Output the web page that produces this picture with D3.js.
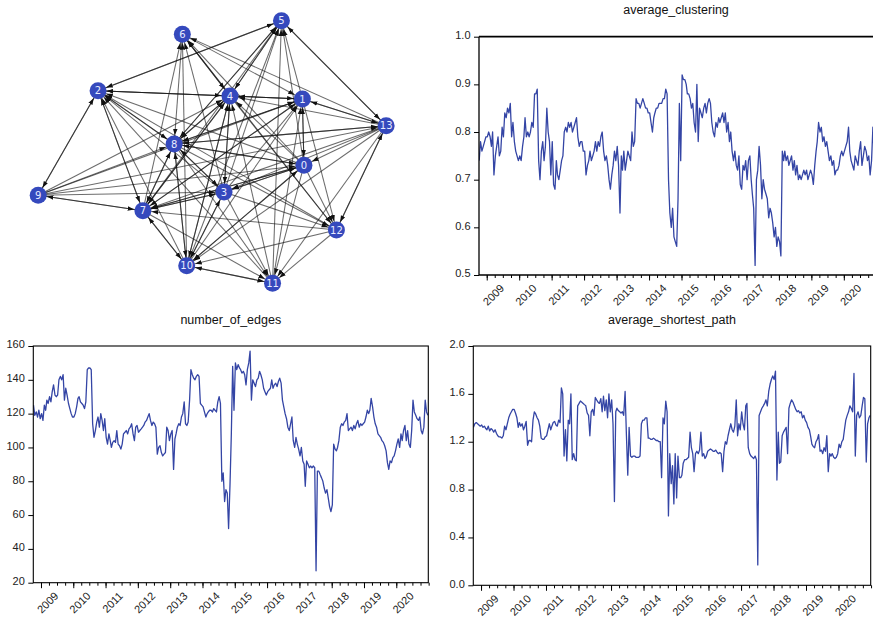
<!DOCTYPE html>
<html>
<head>
<meta charset="utf-8">
<script src="https://cdn.jsdelivr.net/npm/d3@7"></script>
<style>
  body { margin: 0; background: #fff; }
  text { font-family: "Liberation Sans", Arial, sans-serif; }
</style>
</head>
<body>
<svg id="chart" width="873" height="620"></svg>
<script>
// ---- network: node layout (normalized coords) and edge list ----
var nodeX = [0.527, 0.518, -0.653, 0.069, 0.103, 0.398, -0.170, -0.396, -0.217, -0.996, -0.145, 0.347, 0.713, 0.998];
var nodeY = [-0.101, 0.404, 0.467, -0.305, 0.427, 1.0, 0.896, -0.447, 0.061, -0.330, -0.866, -1.0, -0.594, 0.200];

var edgeList = [
  [5,2],[5,4],[8,5],[7,5],[3,5],[10,5],[11,5],[1,5],[0,5],[13,5],
  [6,4],[6,1],[13,6],[0,6],[6,8],[7,6],[10,6],[3,6],[12,6],
  [2,4],[1,2],[8,2],[2,7],[10,2],[3,2],[0,2],[12,2],[11,2],[9,2],
  [1,4],[13,4],[8,4],[7,4],[10,4],[3,4],[0,4],[4,12],[11,4],[9,4],
  [13,1],[8,1],[7,1],[10,1],[3,1],[0,1],[1,12],[11,1],[9,1],
  [13,8],[13,0],[13,3],[13,7],[13,10],[13,12],[13,11],[9,13],
  [8,0],[8,3],[8,7],[8,10],[8,11],[8,12],[9,8],
  [0,3],[7,0],[10,0],[0,11],[0,12],[9,0],
  [3,7],[3,10],[3,11],[3,12],[9,3],
  [7,10],[7,11],[12,7],[9,7],
  [10,11],[12,10],[12,11],
  // reverse directions
  [2,5],[4,5],[5,8],[4,6],[4,2],[2,8],[7,2],[4,1],[4,8],[4,7],[4,10],[4,3],
  [1,13],[1,8],[1,7],[1,0],[8,13],[0,8],[3,8],[7,8],[10,8],[3,0],[0,7],[0,10],
  [7,3],[10,3],[10,7],[2,9],[7,9],[11,10],[5,13],[12,13]
];

// ---- time series: two readings per month, Oct 2008 .. Dec 2020 ----
var years = [2009, 2010, 2011, 2012, 2013, 2014, 2015, 2016, 2017, 2018, 2019, 2020];

var clustering = [
  0.74,0.78, 0.76,0.77, 0.78,0.79,
  0.79,0.80, 0.79,0.77, 0.80,0.71, 0.75,0.77, 0.79,0.75, 0.76,0.81, 0.79,0.84, 0.83,0.85, 0.84,0.86, 0.79,0.82, 0.78,0.76, 0.75,0.74,
  0.75,0.74, 0.77,0.79, 0.83,0.79, 0.80,0.79, 0.80,0.82, 0.81,0.88, 0.88,0.89, 0.74,0.70, 0.76,0.78, 0.74,0.77, 0.85,0.80, 0.78,0.71,
  0.78,0.69, 0.68,0.74, 0.71,0.70, 0.72,0.74, 0.75,0.80, 0.81,0.80, 0.82,0.81, 0.82,0.80, 0.81,0.82, 0.83,0.79, 0.77,0.78, 0.78,0.76,
  0.76,0.71, 0.73,0.74, 0.76,0.74, 0.75,0.76, 0.78,0.76, 0.78,0.77, 0.79,0.80, 0.76,0.74, 0.75,0.73, 0.70,0.68, 0.71,0.73, 0.76,0.74,
  0.77,0.73, 0.63,0.75, 0.72,0.76, 0.72,0.74, 0.76,0.75, 0.74,0.80, 0.77,0.78, 0.87,0.86, 0.86,0.85, 0.86,0.87, 0.86,0.85, 0.85,0.84,
  0.84,0.82, 0.80,0.83, 0.84,0.85, 0.85,0.86, 0.86,0.86, 0.87,0.87, 0.89,0.88, 0.70,0.63, 0.60,0.64, 0.58,0.57, 0.56,0.66, 0.86,0.74,
  0.92,0.91, 0.91,0.90, 0.88,0.88, 0.87,0.85, 0.86,0.82, 0.80,0.90, 0.78,0.85, 0.84,0.83, 0.85,0.86, 0.84,0.86, 0.87,0.86, 0.82,0.80,
  0.79,0.82, 0.81,0.83, 0.82,0.83, 0.84,0.82, 0.84,0.80, 0.82,0.78, 0.80,0.76, 0.74,0.76, 0.73,0.72, 0.75,0.69, 0.68,0.73, 0.72,0.74,
  0.70,0.74, 0.75,0.70, 0.67,0.64, 0.52,0.70, 0.72,0.77, 0.73,0.66, 0.70,0.68, 0.67,0.66, 0.62,0.64, 0.63,0.61, 0.58,0.60, 0.56,0.58,
  0.57,0.54, 0.76,0.74, 0.76,0.74, 0.75,0.73, 0.74,0.75, 0.72,0.74, 0.71,0.73, 0.70,0.71, 0.70,0.71, 0.72,0.71, 0.72,0.70, 0.71,0.72,
  0.71,0.69, 0.73,0.76, 0.78,0.82, 0.80,0.81, 0.78,0.79, 0.77,0.78, 0.76,0.74, 0.75,0.73, 0.74,0.71, 0.72,0.72, 0.73,0.75, 0.76,0.75,
  0.76,0.77, 0.78,0.81, 0.76,0.74, 0.73,0.72, 0.75,0.74, 0.73,0.76, 0.78,0.73, 0.75,0.77, 0.76,0.74, 0.75,0.71, 0.74,0.81, 0.75,0.76
];

var numEdges = [
  125,119, 121,118, 122,117,
  120,116, 125,122, 128,126, 130,127, 133,137, 131,130, 131,140, 142,140, 143,128, 135,131, 126,123, 120,118,
  118,120, 124,129, 130,127, 126,125, 123,127, 146,147, 147,146, 114,106, 110,115, 118,112, 120,116, 110,117,
  106,102, 108,104, 100,103, 104,103, 110,102, 101,99, 102,108, 109,110, 108,111, 112,114, 108,104, 112,113,
  109,110, 111,112, 113,115, 116,118, 120,116, 113,115, 114,112, 96,100, 101,97, 95,96, 97,112, 110,104,
  108,110, 87,105, 108,112, 114,113, 118,120, 127,114, 113,115, 128,146, 143,141, 140,142, 143,142, 126,125,
  124,121, 118,120, 121,122, 122,121, 123,122, 121,127, 130,126, 80,85, 68,75, 73,52, 78,108, 148,122,
  150,146, 149,147, 146,144, 145,143, 137,146, 150,157, 128,140, 138,136, 140,141, 145,143, 140,135, 133,131,
  133,134, 135,140, 135,137, 138,136, 139,141, 138,128, 124,120, 117,112, 110,114, 118,104, 100,106, 102,99,
  95,100, 92,90, 77,92, 90,88, 89,88, 89,88, 27,86, 86,84, 82,80, 76,73, 75,70, 65,62,
  66,102, 99,98, 100,104, 112,114, 113,115, 116,120, 110,111, 112,110, 113,111, 114,116, 112,114, 113,114,
  115,118, 122,120, 122,129, 124,118, 114,112, 108,107, 106,104, 103,101, 98,91, 87,92, 91,94, 95,98,
  102,105, 100,108, 104,110, 113,104, 110,102, 100,110, 128,121, 119,117, 116,118, 110,108, 112,128, 121,119
];

var shortestPath = [
  1.32,1.35, 1.36,1.35, 1.34,1.33,
  1.34,1.32, 1.33,1.31, 1.30,1.33, 1.29,1.31, 1.30,1.28, 1.30,1.27, 1.25,1.24, 1.24,1.23, 1.25,1.33, 1.30,1.35, 1.40,1.43, 1.45,1.47,
  1.47,1.44, 1.40,1.32, 1.36,1.33, 1.35,1.30, 1.33,1.37, 1.17,1.21, 1.21,1.20, 1.38,1.45, 1.43,1.40, 1.38,1.33, 1.23,1.22, 1.22,1.24,
  1.25,1.30, 1.35,1.30, 1.33,1.36, 1.37,1.34, 1.33,1.38, 1.36,1.65, 1.60,1.08, 1.30,1.04, 1.38,1.35, 1.60,1.05, 1.10,1.05, 1.04,1.50,
  1.52,1.54, 1.53,1.52, 1.51,1.50, 1.44,1.42, 1.25,1.45, 1.47,1.42, 1.57,1.55, 1.53,1.52, 1.56,1.45, 1.58,1.46, 1.55,1.40, 1.60,1.45,
  1.55,1.35, 0.70,1.45, 1.48,1.46, 1.45,1.44, 1.45,1.42, 1.62,1.25, 0.92,1.32, 1.08,1.07, 1.08,1.08, 1.07,1.07, 1.07,1.08, 1.35,1.38,
  1.38,1.40, 1.40,1.23, 1.23,1.22, 1.22,1.23, 1.22,1.21, 1.21,1.20, 1.20,0.90, 1.40,1.35, 1.54,1.45, 0.58,1.10, 0.85,1.00, 0.68,1.10,
  0.73,1.08, 0.90,0.90, 0.92,1.02, 1.05,1.05, 1.06,1.07, 1.28,1.15, 1.10,0.95, 1.10,1.12, 1.10,1.13, 1.28,1.08, 1.10,1.06, 1.08,1.12,
  1.13,1.14, 1.13,1.12, 1.12,1.13, 1.11,1.10, 1.11,1.10, 0.95,1.12, 1.20,1.18, 1.25,1.30, 1.35,1.30, 1.28,1.33, 1.55,1.25, 1.35,1.30,
  1.45,1.35, 1.30,1.50, 1.52,1.15, 1.10,1.08, 1.07,1.06, 1.08,1.05, 0.17,1.42, 1.45,1.48, 1.50,1.52, 1.55,1.50, 1.62,1.68, 1.72,1.75,
  1.72,1.79, 0.88,1.28, 1.02,1.03, 1.25,1.28, 1.30,1.32, 1.10,1.48, 1.52,1.55, 1.53,1.50, 1.47,1.45, 1.46,1.44, 1.45,1.40, 1.42,1.38,
  1.36,1.32, 1.30,1.24, 1.18,1.16, 1.15,1.20, 1.22,1.26, 1.12,1.13, 1.10,1.15, 1.12,1.25, 0.95,1.10, 1.08,1.10, 1.07,1.06, 1.07,1.10,
  1.18,1.15, 1.20,1.22, 1.30,1.38, 1.42,1.45, 1.50,1.48, 1.45,1.77, 1.08,1.42, 1.45,1.40, 1.42,1.50, 1.57,1.56, 1.03,1.35, 1.40,1.42
];

// dates for the readings: 8th and 23rd of each month from Oct 2008
var dates = clustering.map(function(v, i) {
  return new Date(2008, 9 + Math.floor(i / 2), i % 2 ? 23 : 8);
});

var svg = d3.select("#chart");
svg.append("rect").attr("width", 873).attr("height", 620).attr("fill", "#fff");

var lineColor = "#3445a5";

// ================= network =================
var gx = d3.scaleLinear().domain([-1, 1]).range([37.5, 386.5]);
var gy = d3.scaleLinear().domain([-1, 1]).range([283.3, 20.7]);
var nodeR = 8.5;

svg.append("defs").append("marker")
    .attr("id", "arrow")
    .attr("viewBox", "0 -5 10 10")
    .attr("refX", 6.5 + nodeR + 0.3)
    .attr("refY", 0)
    .attr("markerWidth", 10)
    .attr("markerHeight", 10)
    .attr("markerUnits", "userSpaceOnUse")
    .attr("orient", "auto")
  .append("path")
    .attr("d", "M0,-2.3L6.5,0L0,2.3Z")
    .attr("fill", "#111");

var gNet = svg.append("g");

gNet.selectAll("line.edge")
    .data(edgeList)
  .enter().append("line")
    .attr("class", "edge")
    .attr("x1", function(d) { return gx(nodeX[d[0]]); })
    .attr("y1", function(d) { return gy(nodeY[d[0]]); })
    .attr("x2", function(d) { return gx(nodeX[d[1]]); })
    .attr("y2", function(d) { return gy(nodeY[d[1]]); })
    .attr("stroke", "#111")
    .attr("stroke-opacity", 0.62)
    .attr("stroke-width", 1.05)
    .attr("marker-end", "url(#arrow)");

var nodes = gNet.selectAll("g.node")
    .data(nodeX)
  .enter().append("g")
    .attr("class", "node")
    .attr("transform", function(d, i) { return "translate(" + gx(nodeX[i]) + "," + gy(nodeY[i]) + ")"; });

nodes.append("circle")
    .attr("r", nodeR)
    .attr("fill", "#3549bd");

nodes.append("text")
    .attr("text-anchor", "middle")
    .attr("dy", "0.36em")
    .style("font-family", "'DejaVu Sans', sans-serif")
    .style("font-size", "10px")
    .attr("fill", "#e8ecff")
    .text(function(d, i) { return i; });

// ================= time series panels =================
var timeDomain = [new Date(2008, 9, 6), new Date(2020, 11, 28)];
var yearStarts = years.map(function(y) { return new Date(y, 0, 1); });
var quarterStarts = d3.timeMonth.every(3).range(new Date(2008, 9, 1), new Date(2021, 0, 2));

function drawPanel(p) {
  var x = d3.scaleTime().domain(timeDomain).range([p.left, p.right]);
  var y = d3.scaleLinear().domain(p.domain).range([p.bottom, p.top]);
  var g = svg.append("g");

  g.append("clipPath").attr("id", "clip-" + p.id)
    .append("rect")
      .attr("x", p.left).attr("y", p.top)
      .attr("width", p.right - p.left).attr("height", p.bottom - p.top);

  var line = d3.line()
      .x(function(d, i) { return x(dates[i]); })
      .y(function(d) { return y(d); });

  g.append("path")
      .datum(p.values)
      .attr("clip-path", "url(#clip-" + p.id + ")")
      .attr("fill", "none")
      .attr("stroke", lineColor)
      .attr("stroke-width", 1.3)
      .attr("stroke-linejoin", "round")
      .attr("d", line);

  // frame
  if (p.box) {
    g.append("rect")
        .attr("x", p.left).attr("y", p.top)
        .attr("width", p.right - p.left).attr("height", p.bottom - p.top)
        .attr("fill", "none").attr("stroke", "#000").attr("stroke-width", 1.1);
  } else {
    g.append("line").attr("x1", p.left).attr("x2", p.right).attr("y1", p.top).attr("y2", p.top)
        .attr("stroke", "#000").attr("stroke-width", 1.8);
    g.append("line").attr("x1", p.left).attr("x2", p.left).attr("y1", p.top).attr("y2", p.bottom)
        .attr("stroke", "#000").attr("stroke-width", 1.3);
    g.append("line").attr("x1", p.left).attr("x2", p.right).attr("y1", p.bottom).attr("y2", p.bottom)
        .attr("stroke", "#000").attr("stroke-width", 1.3);
  }

  // y axis
  var ya = g.append("g")
      .attr("transform", "translate(" + p.left + ",0)")
      .call(d3.axisLeft(y).tickValues(p.ticks).tickFormat(d3.format(p.fmt))
              .tickSize(5).tickSizeOuter(0).tickPadding(3.5));
  ya.select(".domain").remove();
  ya.attr("font-size", 11).attr("font-family", "'Liberation Sans', Arial, sans-serif");
  ya.selectAll("text").attr("fill", "#222").attr("dy", "0.18em");
  ya.selectAll("line").attr("stroke", "#000");

  // x axis: minor quarterly and major yearly ticks
  var xm = g.append("g")
      .attr("transform", "translate(0," + p.bottom + ")")
      .call(d3.axisBottom(x).tickValues(quarterStarts.filter(function(d) { return d >= timeDomain[0]; }))
              .tickFormat("").tickSize(3).tickSizeOuter(0));
  xm.select(".domain").remove();

  var xa = g.append("g")
      .attr("transform", "translate(0," + p.bottom + ")")
      .call(d3.axisBottom(x).tickValues(yearStarts).tickFormat("").tickSize(5.5).tickSizeOuter(0));
  xa.select(".domain").remove();
  g.selectAll(".tick line").attr("stroke", "#000");

  g.selectAll("text.year")
      .data(years)
    .enter().append("text")
      .attr("class", "year")
      .attr("text-anchor", "end")
      .attr("font-size", 11)
      .attr("fill", "#222")
      .attr("transform", function(d) {
        return "translate(" + (x(new Date(d, 6, 2)) + 2) + "," + (p.bottom + 14) + ") rotate(-45)";
      })
      .text(function(d) { return d; });

  g.append("text")
      .attr("x", (p.left + Math.min(p.right, 873)) / 2)
      .attr("y", p.titleY)
      .attr("text-anchor", "middle")
      .attr("font-size", 12.5)
      .attr("fill", "#111")
      .text(p.title);
}

drawPanel({
  id: "clu", title: "average_clustering", values: clustering,
  left: 479, right: 876, top: 36.7, bottom: 275, titleY: 14,
  domain: [0.5, 1.0], ticks: [0.5, 0.6, 0.7, 0.8, 0.9, 1.0], fmt: ".1f", box: false
});

drawPanel({
  id: "edg", title: "number_of_edges", values: numEdges,
  left: 33.3, right: 428.3, top: 346, bottom: 582.7, titleY: 324,
  domain: [20, 160], ticks: [20, 40, 60, 80, 100, 120, 140, 160], fmt: "d", box: true
});

drawPanel({
  id: "asp", title: "average_shortest_path", values: shortestPath,
  left: 473.3, right: 870.7, top: 346, bottom: 585.3, titleY: 324,
  domain: [0, 2.0], ticks: [0, 0.4, 0.8, 1.2, 1.6, 2.0], fmt: ".1f", box: true
});
</script>
</body>
</html>
